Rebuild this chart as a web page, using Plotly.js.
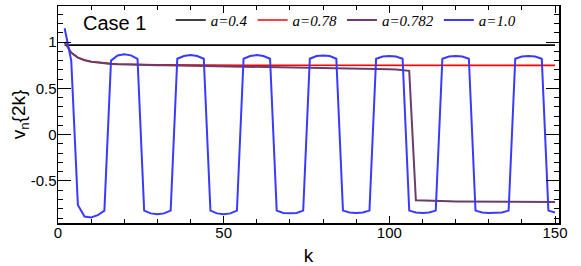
<!DOCTYPE html>
<html>
<head>
<meta charset="utf-8">
<script src="https://cdn.plot.ly/plotly-3.0.1.min.js"></script>
<style>html,body{margin:0;padding:0;background:#fff;}#chart{width:581px;height:266px;}</style>
</head>
<body>
<div id="chart"></div>
<script>
// k values (even steps)
const k = [2,4,6,8,10,12,14,16,18,20,22,24,26,28,30,32,34,36,38,40,42,44,46,48,50,52,54,56,58,60,62,64,66,68,70,72,74,76,78,80,82,84,86,88,90,92,94,96,98,100,102,104,106,108,110,112,114,116,118,120,122,124,126,128,130,132,134,136,138,140,142,144,146,148,150];

const a04 = [0.967,0.967,0.967,0.967,0.967,0.967,0.967,0.967,0.967,0.967,0.967,0.967,0.967,0.967,0.967,0.967,0.967,0.967,0.967,0.967,0.967,0.967,0.967,0.967,0.967,0.967,0.967,0.967,0.967,0.967,0.967,0.967,0.967,0.967,0.967,0.967,0.967,0.967,0.967,0.967,0.967,0.967,0.967,0.967,0.967,0.967,0.967,0.967,0.967,0.967,0.967,0.967,0.967,0.967,0.967,0.967,0.967,0.967,0.967,0.967,0.967,0.967,0.967,0.967,0.967,0.967,0.967,0.967,0.967,0.967,0.967,0.967,0.967,0.967,0.967];

const a078 = [1.0,0.885,0.835,0.806,0.79,0.78,0.773,0.768,0.764,0.761,0.759,0.757,0.756,0.755,0.754,0.754,0.753,0.753,0.752,0.752,0.752,0.751,0.751,0.751,0.751,0.751,0.751,0.75,0.75,0.75,0.75,0.75,0.75,0.75,0.75,0.75,0.75,0.75,0.75,0.75,0.75,0.75,0.75,0.75,0.75,0.75,0.75,0.75,0.75,0.75,0.75,0.75,0.75,0.749,0.749,0.749,0.749,0.749,0.749,0.749,0.749,0.749,0.749,0.749,0.749,0.749,0.749,0.749,0.749,0.749,0.749,0.749,0.749,0.749,0.749];

const a0782 = [1.0,0.885,0.833,0.803,0.787,0.777,0.769,0.764,0.76,0.757,0.755,0.753,0.752,0.751,0.75,0.749,0.748,0.747,0.746,0.745,0.744,0.743,0.742,0.741,0.74,0.739,0.738,0.737,0.736,0.735,0.734,0.733,0.732,0.731,0.73,0.729,0.728,0.727,0.726,0.725,0.724,0.722,0.721,0.72,0.718,0.717,0.715,0.713,0.711,0.708,0.705,0.70,0.69,-0.708,-0.712,-0.715,-0.717,-0.719,-0.72,-0.721,-0.722,-0.722,-0.723,-0.723,-0.724,-0.724,-0.725,-0.725,-0.726,-0.726,-0.727,-0.727,-0.728,-0.728,-0.728];

const a10 = [1.15,0.80,-0.76,-0.885,-0.895,-0.87,-0.82,0.80,0.855,0.868,0.857,0.82,-0.82,-0.85,-0.86,-0.85,-0.82,0.82,0.85,0.86,0.85,0.82,-0.82,-0.85,-0.86,-0.85,-0.82,0.82,0.85,0.86,0.85,0.82,-0.82,-0.845,-0.85,-0.845,-0.82,0.82,0.85,0.855,0.85,0.82,-0.82,-0.84,-0.845,-0.84,-0.82,0.82,0.845,0.85,0.845,0.82,-0.82,-0.84,-0.845,-0.84,-0.82,0.82,0.845,0.85,0.845,0.82,-0.82,-0.84,-0.845,-0.845,-0.84,-0.82,0.82,0.845,0.85,0.845,0.82,-0.82,-0.84];

const seriesNames = ['a=0.4','a=0.78','a=0.782','a=1.0'];
const seriesColors = ['#000000','#ff0000','#6a3d6a','#3a3aff'];
const seriesWidths = [1.6,1.6,2,2];
const seriesData = [a04,a078,a0782,a10];

const xTickVals = [0,50,100,150];
const xTickText = ['0','50','100','150'];
const yTickVals = [-0.5,0,0.5,1];
const yTickText = ['-0.5','0','0.5','1'];

const traces = seriesData.map((ys,i)=>({
  x: k, y: ys, type:'scatter', mode:'lines', name: seriesNames[i],
  line:{color:seriesColors[i], width:seriesWidths[i]}
}));

const layout = {
  width:581, height:266,
  margin:{l:58, r:22, t:5, b:43, pad:0},
  paper_bgcolor:'#fff', plot_bgcolor:'#fff',
  showlegend:true,
  legend:{orientation:'h', x:0.225, y:0.93, xanchor:'left', yanchor:'middle',
    bgcolor:'rgba(0,0,0,0)', font:{family:'Liberation Serif', size:15, style:'italic', color:'#000'},
    itemwidth:30, tracegroupgap:0},
  font:{family:'Liberation Sans', color:'#000'},
  xaxis:{range:[0,151.2], showgrid:false, zeroline:false,
    showline:true, linecolor:'#000', linewidth:1.5, mirror:'allticks',
    ticks:'inside', ticklen:7, tickwidth:1, tickcolor:'#000',
    tickmode:'array', tickvals:xTickVals, ticktext:xTickText, ticklabelstandoff:-5,
    tickfont:{family:'Liberation Sans', size:15, color:'#000'},
    minor:{tickmode:'linear', tick0:0, dtick:10, ticks:'inside', ticklen:4, tickwidth:1, tickcolor:'#000', showgrid:false},
    title:{text:'k', font:{family:'Liberation Sans', size:19, color:'#000'}, standoff:12}},
  yaxis:{range:[-0.954,1.39], showgrid:false, zeroline:false,
    showline:true, linecolor:'#000', linewidth:1.5, mirror:'allticks',
    ticks:'inside', ticklen:13, tickwidth:1, tickcolor:'#000',
    tickmode:'array', tickvals:yTickVals, ticktext:yTickText, ticklabelstandoff:-3,
    tickfont:{family:'Liberation Sans', size:15, color:'#000'},
    minor:{tickmode:'linear', tick0:0, dtick:0.1, ticks:'inside', ticklen:5, tickwidth:1, tickcolor:'#000', showgrid:false},
    title:{text:'v<sub>n</sub>{2k}', font:{family:'Liberation Sans', size:19, color:'#000'}, standoff:0}},
  annotations:[{text:'Case 1', xref:'paper', yref:'paper', x:0.045, y:0.92, xanchor:'left', yanchor:'middle',
    showarrow:false, font:{family:'Liberation Sans', size:20, color:'#000'}}]
};

Plotly.newPlot('chart', traces, layout, {staticPlot:true, displayModeBar:false});
</script>
</body>
</html>
